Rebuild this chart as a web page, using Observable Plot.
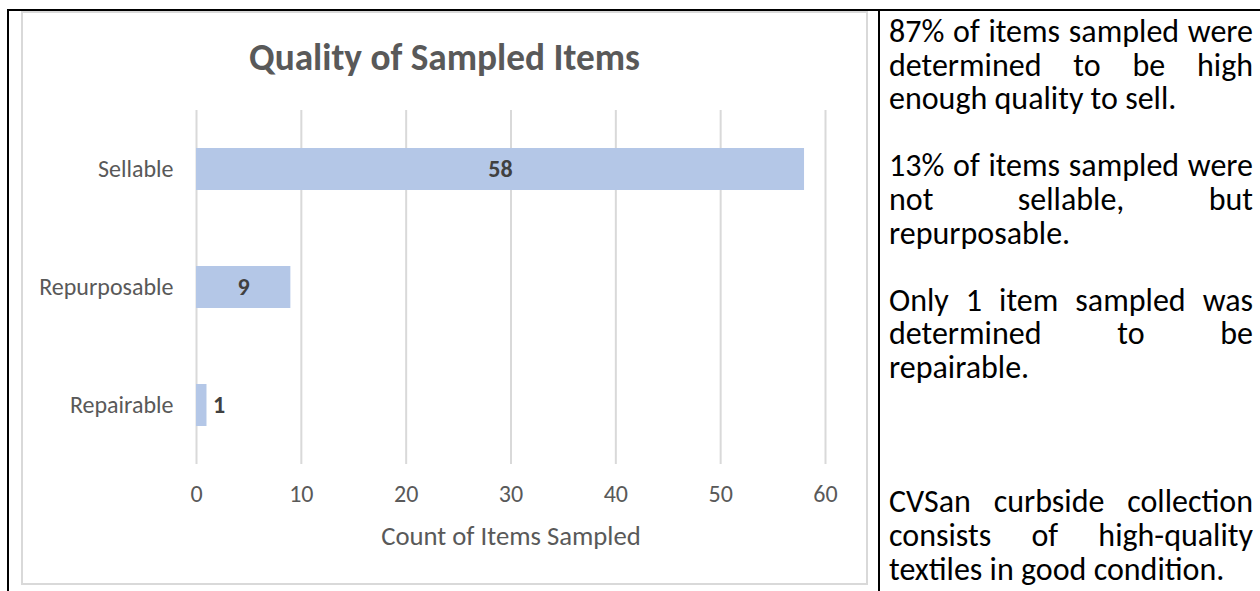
<!DOCTYPE html>
<html>
<head>
<meta charset="utf-8">
<script src="https://cdn.jsdelivr.net/npm/d3@7"></script>
<script src="https://cdn.jsdelivr.net/npm/@observablehq/plot@0.6"></script>
<style>
  html, body { margin: 0; padding: 0; background: #fff; width: 1260px; height: 591px; overflow: hidden; }
  body { position: relative; font-family: Calibri, Carlito, Lato, "Open Sans", sans-serif; }
  .tline { position: absolute; background: #000; }
  #chartbox { position: absolute; left: 21px; top: 11px; width: 843px; height: 570px; border: 2px solid #d9d9d9; }
  #title { position: absolute; left: 21px; top: 37px; width: 847px; text-align: center; font-weight: bold; font-size: 37.3px; line-height: 40px; color: #595959; }
  #plot { position: absolute; left: 21px; top: 11px; }
  #notes { position: absolute; left: 889px; top: 15px; width: 364px; font-size: 32px; color: #000; }
  #notes div.l { height: 33.6px; line-height: 33.6px; white-space: nowrap; }
  #notes div.j { text-align: justify; text-align-last: justify; white-space: normal; overflow: visible; }
</style>
</head>
<body>
<div class="tline" style="left:7px; top:9px; width:1253px; height:2px;"></div>
<div class="tline" style="left:7px; top:9px; width:2px; height:582px;"></div>
<div class="tline" style="left:878px; top:9px; width:2px; height:582px;"></div>
<div id="chartbox"></div>
<div id="plot"></div>
<div id="title"></div>
<div id="notes"></div>
<script>
const chartTitle = "Quality of Sampled Items";
const categories = ["Sellable", "Repurposable", "Repairable"];
const counts = [58, 9, 1];
const xTicks = [0, 10, 20, 30, 40, 50, 60];
const xLabel = "Count of Items Sampled";
const noteParagraphs = [
  ["87% of items sampled were", "determined to be high", "enough quality to sell."],
  ["13% of items sampled were", "not sellable, but", "repurposable."],
  ["Only 1 item sampled was", "determined to be", "repairable."],
  ["CVSan curbside collection", "consists of high-quality", "textiles in good condition."]
];
const blankLinesAfter = [1, 1, 3, 0];

const data = categories.map((c, i) => ({category: c, count: counts[i]}));
const font = 'Calibri, Carlito, Lato, "Open Sans", sans-serif';

document.getElementById("title").textContent = chartTitle;

const plot = Plot.plot({
  width: 847,
  height: 572,
  marginLeft: 175,
  marginRight: 43,
  marginTop: 99,
  marginBottom: 119,
  style: {fontFamily: font, fontSize: "24px", color: "#595959", background: "transparent", overflow: "visible"},
  x: {domain: [0, 60], ticks: xTicks},
  y: {domain: categories, paddingInner: 0.64, paddingOuter: 0.32},
  marks: [
    Plot.gridX(xTicks, {stroke: "#d9d9d9", strokeOpacity: 1, strokeWidth: 2}),
    Plot.barX(data, {x: "count", y: "category", fill: "#b4c7e7"}),
    Plot.text(data.filter(d => d.count >= 5), {x: d => d.count / 2, y: "category", text: d => String(d.count), fontWeight: "bold", fill: "#404040", fontSize: 24}),
    Plot.text(data.filter(d => d.count < 5), {x: "count", y: "category", text: d => String(d.count), fontWeight: "bold", fill: "#404040", fontSize: 24, textAnchor: "start", dx: 6}),
    Plot.axisY({tickSize: 0, tickPadding: 23, label: null, fontSize: 24, fill: "#595959"}),
    Plot.axisX(xTicks, {tickSize: 0, tickPadding: 20, fontSize: 24, fill: "#595959", label: null}),
    Plot.axisX({tickSize: 0, ticks: [], label: xLabel, labelAnchor: "center", labelArrow: "none", labelOffset: 80, fontSize: 26.7, fill: "#595959"})
  ]
});
document.getElementById("plot").appendChild(plot);

const notes = document.getElementById("notes");
noteParagraphs.forEach((lines, pi) => {
  lines.forEach((ln, li) => {
    const d = document.createElement("div");
    d.className = "l" + (li < lines.length - 1 ? " j" : "");
    d.textContent = ln;
    notes.appendChild(d);
  });
  for (let k = 0; k < blankLinesAfter[pi]; k++) {
    const b = document.createElement("div");
    b.className = "l";
    b.innerHTML = "&nbsp;";
    notes.appendChild(b);
  }
});
</script>
</body>
</html>
